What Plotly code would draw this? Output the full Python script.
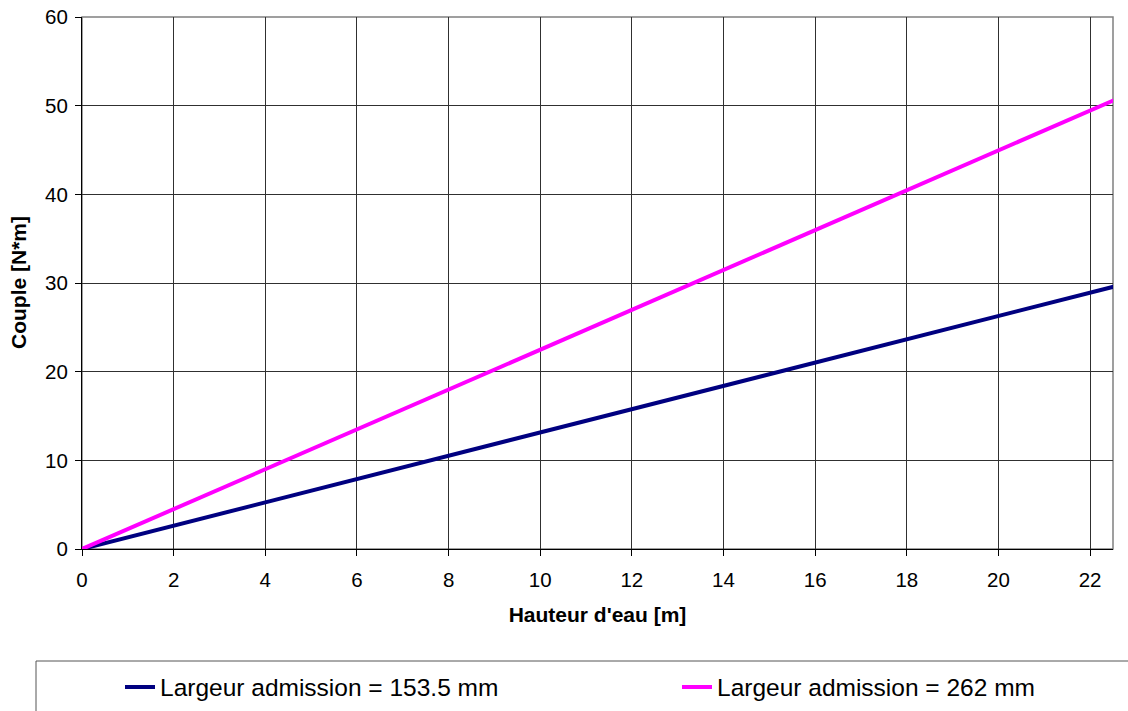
import plotly.graph_objects as go

# water height [m]
hauteur = [0, 2, 4, 6, 8, 10, 12, 14, 16, 18, 20, 22, 22.6]
# torque [N*m] for each intake width
couple_153 = [0, 2.63, 5.26, 7.89, 10.5, 13.2, 15.8, 18.4, 21.0, 23.7, 26.3, 28.9, 29.7]
couple_262 = [0, 4.5, 9.0, 13.5, 18.0, 22.5, 27.0, 31.5, 36.0, 40.5, 45.0, 49.5, 50.8]

noms = ["Largeur admission = 153.5 mm", "Largeur admission = 262 mm"]
couleurs = ["#000080", "#FF00FF"]

W, H = 1128, 711
L, T = 82, 17
R, B = W - 1113, H - 549
pw, ph = W - L - R, H - T - B

fig = go.Figure()
for y, nom, c, leg in zip([couple_153, couple_262], noms, couleurs, ["legend", "legend2"]):
    fig.add_trace(go.Scatter(x=hauteur, y=y, mode="lines", name=nom, legend=leg,
                             line=dict(color=c, width=4)))

police = "Liberation Sans, Arial, sans-serif"

def legende(x_px):
    return dict(xref="container", yref="container",
                x=x_px / W, xanchor="left", y=1 - 687 / H, yanchor="middle",
                font=dict(size=24.5), bgcolor="rgba(0,0,0,0)", borderwidth=0)

fig.update_layout(
    width=W, height=H,
    margin=dict(l=L, r=R, t=T, b=B, autoexpand=False),
    plot_bgcolor="white", paper_bgcolor="white",
    font=dict(family=police, color="black", size=20),
    xaxis=dict(range=[0, 22.5], tickvals=list(range(0, 23, 2)),
               showgrid=True, gridcolor="#303030", gridwidth=1,
               showline=True, linecolor="black", linewidth=1,
               ticks="outside", ticklen=6, tickcolor="black",
               zeroline=False, tickfont=dict(size=20.5), ticklabelstandoff=6,
               title=dict(text="<b>Hauteur d'eau [m]</b>", font=dict(size=21), standoff=17)),
    yaxis=dict(range=[0, 60], tickvals=list(range(0, 61, 10)),
               showgrid=True, gridcolor="#303030", gridwidth=1,
               showline=True, linecolor="black", linewidth=1,
               ticks="outside", ticklen=6, tickcolor="black", ticklabeloverflow="allow",
               zeroline=False, tickfont=dict(size=20.5), ticklabelstandoff=3),
    legend=legende(120),
    legend2=legende(677),
    showlegend=True,
)

fig.add_annotation(text="<b>Couple [N*m]</b>", textangle=-90, showarrow=False,
                   xref="paper", yref="paper", x=(18 - 82) / pw, y=(549 - 283) / ph,
                   xanchor="center", yanchor="middle", font=dict(size=21))

# plot area frame (gray, Excel style) and legend box
fig.add_shape(type="rect", xref="paper", yref="paper", x0=0, x1=1, y0=0, y1=1,
              line=dict(color="#808080", width=1.5), layer="below")
fig.add_shape(type="rect", xref="paper", yref="paper",
              x0=(36 - 82) / pw, x1=(1140 - 82) / pw,
              y0=(549 - 730) / ph, y1=(549 - 661) / ph,
              line=dict(color="#555555", width=1))

# drop the default 8px body margin so the figure sits at the page corner
fig.write_html("out.html", config={"displayModeBar": False},
               post_script="document.body.style.margin = '0';")
